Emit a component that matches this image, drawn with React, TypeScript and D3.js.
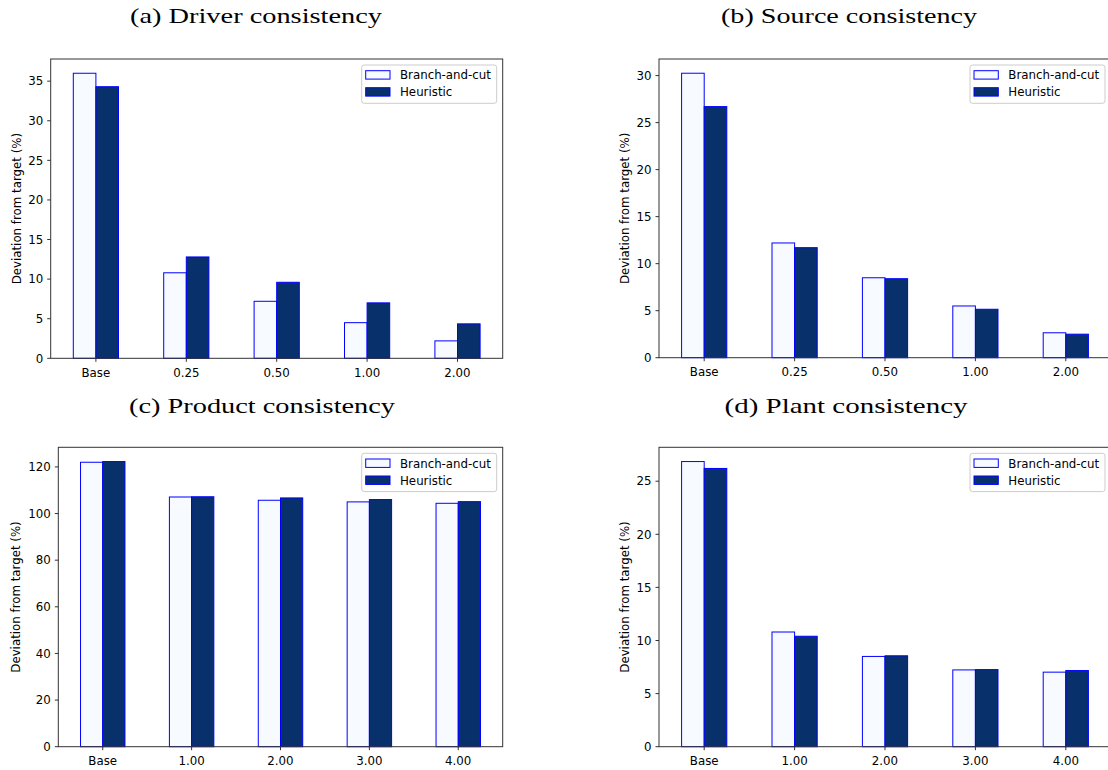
import React from "react";
import * as d3 from "d3";

const categoriesDriver = ["Base", "0.25", "0.50", "1.00", "2.00"];
const categoriesSource = ["Base", "0.25", "0.50", "1.00", "2.00"];
const categoriesProduct = ["Base", "1.00", "2.00", "3.00", "4.00"];
const categoriesPlant = ["Base", "1.00", "2.00", "3.00", "4.00"];

const driverBnC = [36.0, 10.8, 7.2, 4.5, 2.2];
const driverHeu = [34.3, 12.8, 9.6, 7.0, 4.35];
const sourceBnC = [30.25, 12.2, 8.5, 5.5, 2.65];
const sourceHeu = [26.7, 11.7, 8.4, 5.15, 2.5];
const productBnC = [122.0, 107.1, 105.7, 105.0, 104.4];
const productHeu = [122.3, 107.2, 106.7, 106.0, 105.1];
const plantBnC = [26.85, 10.8, 8.5, 7.23, 7.02];
const plantHeu = [26.2, 10.4, 8.56, 7.26, 7.17];

const ticksDriver = [0, 5, 10, 15, 20, 25, 30, 35];
const ticksSource = [0, 5, 10, 15, 20, 25, 30];
const ticksProduct = [0, 20, 40, 60, 80, 100, 120];
const ticksPlant = [0, 5, 10, 15, 20, 25];

const seriesNames = ["Branch-and-cut", "Heuristic"];
const titles = [
  "(a) Driver consistency",
  "(b) Source consistency",
  "(c) Product consistency",
  "(d) Plant consistency",
];
const yLabel = "Deviation from target (%)";

const FILL_BNC = "#f7fbff";
const FILL_HEU = "#08306b";
const EDGE = "#0000ff";
const SPINE = "#333";
const FONT = "'DejaVu Sans', sans-serif";
const FS = 11.8;

type Frame = { left: number; right: number; top: number; bottom: number };

function Panel({
  frame,
  cats,
  bnc,
  heu,
  ticks,
  labelX,
}: {
  frame: Frame;
  cats: string[];
  bnc: number[];
  heu: number[];
  ticks: number[];
  labelX: number;
}) {
  const ymax = Math.max(d3.max(bnc)!, d3.max(heu)!) * 1.05;
  const x = d3.scaleLinear().domain([-0.5, cats.length - 0.5]).range([frame.left, frame.right]);
  const y = d3.scaleLinear().domain([0, ymax]).range([frame.bottom, frame.top]);
  const w = 0.25;
  const legW = 135;
  const legH = 38.3;
  const lx = frame.right - 6 - legW;
  const ly = frame.top + 6;
  return (
    <g>
      {cats.map((c, i) => (
        <g key={c + i}>
          <rect
            x={x(i - w)}
            y={y(bnc[i])}
            width={x(i) - x(i - w)}
            height={y(0) - y(bnc[i])}
            fill={FILL_BNC}
            stroke={EDGE}
            strokeWidth={1}
          />
          <rect
            x={x(i)}
            y={y(heu[i])}
            width={x(i + w) - x(i)}
            height={y(0) - y(heu[i])}
            fill={FILL_HEU}
            stroke={EDGE}
            strokeWidth={1}
          />
        </g>
      ))}
      <rect
        x={frame.left}
        y={frame.top}
        width={frame.right - frame.left}
        height={frame.bottom - frame.top}
        fill="none"
        stroke={SPINE}
        strokeWidth={1}
      />
      {cats.map((c, i) => (
        <g key={"xt" + i}>
          <line x1={x(i)} x2={x(i)} y1={frame.bottom} y2={frame.bottom + 3.5} stroke={SPINE} strokeWidth={1} />
          <text x={x(i)} y={frame.bottom + 18.3} textAnchor="middle" fontFamily={FONT} fontSize={FS} fill="#000">
            {c}
          </text>
        </g>
      ))}
      {ticks.map((t) => (
        <g key={"yt" + t}>
          <line x1={frame.left - 3.5} x2={frame.left} y1={y(t)} y2={y(t)} stroke={SPINE} strokeWidth={1} />
          <text
            x={frame.left - 7.5}
            y={y(t)}
            dy="0.36em"
            textAnchor="end"
            fontFamily={FONT}
            fontSize={FS}
            fill="#000"
          >
            {t}
          </text>
        </g>
      ))}
      <text
        transform={`translate(${labelX},${(frame.top + frame.bottom) / 2}) rotate(-90)`}
        textAnchor="middle"
        dy="0.36em"
        fontFamily={FONT}
        fontSize={FS}
        fill="#000"
      >
        {yLabel}
      </text>
      <g>
        <rect x={lx} y={ly} width={legW} height={legH} rx={2.5} fill="#fff" fillOpacity={0.8} stroke="#ccc" strokeWidth={1} />
        {seriesNames.map((s, k) => (
          <g key={s}>
            <rect
              x={lx + 4}
              y={ly + 5.7 + k * 17}
              width={24.3}
              height={8.4}
              fill={k === 0 ? FILL_BNC : FILL_HEU}
              stroke={EDGE}
              strokeWidth={1}
            />
            <text x={lx + 38.3} y={ly + 14.2 + k * 17} fontFamily={FONT} fontSize={FS} fill="#000">
              {s}
            </text>
          </g>
        ))}
      </g>
    </g>
  );
}

export default function App() {
  const frames: Frame[] = [
    { left: 50.7, right: 502.7, top: 59, bottom: 358.3 },
    { left: 659, right: 1111, top: 59, bottom: 357.7 },
    { left: 58.3, right: 502.7, top: 447.3, bottom: 746.7 },
    { left: 659, right: 1111, top: 447.3, bottom: 746.7 },
  ];
  const titlePos = [
    { x: 256, y: 23, len: 252 },
    { x: 849, y: 23, len: 256 },
    { x: 262, y: 413, len: 266 },
    { x: 846, y: 413, len: 243 },
  ];
  return (
    <svg
      width={1108}
      height={770}
      style={{ position: "absolute", left: 0, top: 0, background: "#fff" }}
    >
      <rect x={0} y={0} width={1108} height={770} fill="#fff" />
      {titles.map((t, i) => (
        <text
          key={t}
          x={titlePos[i].x}
          y={titlePos[i].y}
          textAnchor="middle"
          fontFamily="'Liberation Serif', serif"
          fontSize={22}
          textLength={titlePos[i].len}
          lengthAdjust="spacingAndGlyphs"
          fill="#000"
        >
          {t}
        </text>
      ))}
      <Panel frame={frames[0]} cats={categoriesDriver} bnc={driverBnC} heu={driverHeu} ticks={ticksDriver} labelX={17} />
      <Panel frame={frames[1]} cats={categoriesSource} bnc={sourceBnC} heu={sourceHeu} ticks={ticksSource} labelX={625} />
      <Panel frame={frames[2]} cats={categoriesProduct} bnc={productBnC} heu={productHeu} ticks={ticksProduct} labelX={16} />
      <Panel frame={frames[3]} cats={categoriesPlant} bnc={plantBnC} heu={plantHeu} ticks={ticksPlant} labelX={625} />
    </svg>
  );
}
